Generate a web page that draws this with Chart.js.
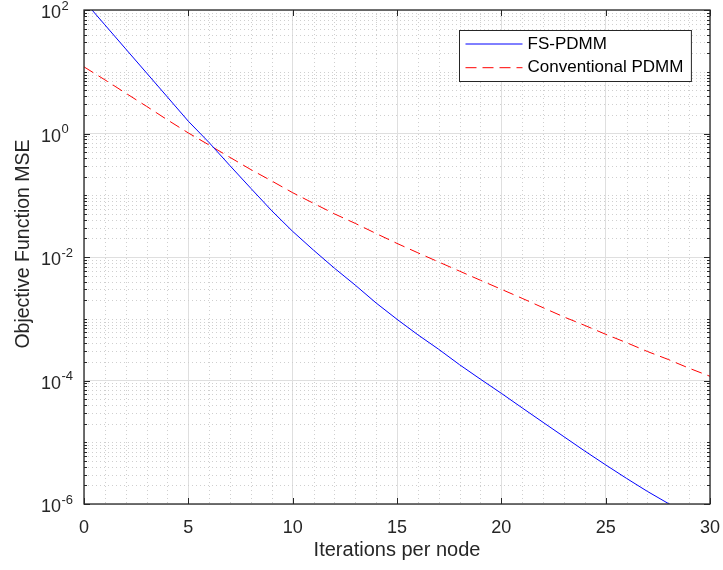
<!DOCTYPE html>
<html>
<head>
<meta charset="utf-8">
<title>FS-PDMM vs Conventional PDMM</title>
<script src="https://cdn.jsdelivr.net/npm/chart.js@4.4.1/dist/chart.umd.min.js"></script>
<style>
  html, body { margin: 0; padding: 0; background: #fff; }
  #wrap { width: 723px; height: 570px; }
</style>
</head>
<body>
<div id="wrap"><canvas id="grafico" width="723" height="570"></canvas></div>
<script>
// iterations per node (x axis)
var iteracoes = [0, 1, 2, 3, 4, 5, 6, 7, 8, 9, 10, 11, 12, 13, 14, 15, 16, 17, 18, 19, 20,
                 21, 22, 23, 24, 25, 26, 27, 28, 29, 30];

// objective function MSE, FS-PDMM
var fsPdmm = [141, 57.5, 23.4, 9.55, 3.89, 1.58, 0.71, 0.30, 0.129, 0.056, 0.026,
              0.0129, 0.0066, 0.0035, 0.0018, 9.8e-4, 5.5e-4, 3.2e-4, 1.8e-4, 1.05e-4, 6.2e-5,
              3.6e-5, 2.1e-5, 1.23e-5, 7.2e-6, 4.3e-6, 2.6e-6, 1.6e-6, 1.02e-6, 6.5e-7, 4.1e-7];

// objective function MSE, conventional PDMM
var convPdmm = [12.0, 7.4, 4.5, 2.75, 1.66, 1.02, 0.65, 0.41, 0.26, 0.17, 0.11,
                0.074, 0.050, 0.035, 0.024, 0.0166, 0.0117, 0.0083, 0.0059, 0.0042, 0.0030,
                0.00214, 0.00151, 0.00107, 7.8e-4, 5.6e-4, 4.1e-4, 2.95e-4, 2.19e-4, 1.58e-4, 1.17e-4];

var xTicks = [0, 5, 10, 15, 20, 25, 30];
var yTicks = [1e-6, 1e-4, 1e-2, 1, 100];

var corEixo = '#262626';
var fonte = '"Liberation Sans", Arial, Helvetica, sans-serif';

// minor grid positions: 2..9 of every decade plus the odd decades, and every unit on x
var minorY = [];
for (var e = -6; e <= 1; e++) {
  for (var k = 1; k <= 9; k++) {
    if (k == 1 && e % 2 == 0) continue;
    minorY.push(k * Math.pow(10, e));
  }
}
var minorX = [];
for (var i = 1; i < 30; i++) {
  if (i % 5 != 0) minorX.push(i);
}

function pontos(ys) {
  return iteracoes.map(function(x, i) { return { x: x, y: ys[i] }; });
}

// box, inward ticks, dotted minor grid, 10^n labels and the boxed legend
var eixos = {
  id: 'eixos',
  beforeDatasetsDraw: function(chart) {
    var ctx = chart.ctx, a = chart.chartArea;
    var xs = chart.scales.x, ys = chart.scales.y;
    ctx.save();
    ctx.strokeStyle = '#cfcfcf';
    ctx.lineWidth = 1;
    ctx.setLineDash([1, 3]);
    ctx.beginPath();
    minorY.forEach(function(v) {
      var y = Math.round(ys.getPixelForValue(v)) + 0.5;
      ctx.moveTo(a.left, y);
      ctx.lineTo(a.right, y);
    });
    minorX.forEach(function(v) {
      var x = Math.round(xs.getPixelForValue(v)) + 0.5;
      ctx.moveTo(x, a.top);
      ctx.lineTo(x, a.bottom);
    });
    ctx.stroke();
    ctx.restore();
  },
  afterDraw: function(chart) {
    var ctx = chart.ctx, a = chart.chartArea;
    var xs = chart.scales.x, ys = chart.scales.y;
    ctx.save();
    ctx.strokeStyle = corEixo;
    ctx.lineWidth = 1.3;
    ctx.strokeRect(a.left, a.top, a.right - a.left, a.bottom - a.top);

    ctx.lineWidth = 1;
    ctx.beginPath();
    xTicks.forEach(function(v) {
      var x = Math.round(xs.getPixelForValue(v)) + 0.5;
      ctx.moveTo(x, a.bottom); ctx.lineTo(x, a.bottom - 6);
      ctx.moveTo(x, a.top); ctx.lineTo(x, a.top + 6);
    });
    yTicks.forEach(function(v) {
      var y = Math.round(ys.getPixelForValue(v)) + 0.5;
      ctx.moveTo(a.left, y); ctx.lineTo(a.left + 6, y);
      ctx.moveTo(a.right, y); ctx.lineTo(a.right - 6, y);
    });
    minorY.forEach(function(v) {
      var y = Math.round(ys.getPixelForValue(v)) + 0.5;
      ctx.moveTo(a.left, y); ctx.lineTo(a.left + 3, y);
      ctx.moveTo(a.right, y); ctx.lineTo(a.right - 3, y);
    });
    ctx.stroke();

    // y tick labels as 10 with a raised exponent
    ctx.fillStyle = corEixo;
    ctx.textBaseline = 'middle';
    ctx.textAlign = 'left';
    yTicks.forEach(function(v) {
      var y = ys.getPixelForValue(v);
      var exp = Math.round(Math.log10(v));
      ctx.font = '18px ' + fonte;
      ctx.fillText('10', 41, y + 3.5);
      var w = ctx.measureText('10').width;
      ctx.font = '13px ' + fonte;
      ctx.fillText(String(exp), 41 + w + 0.5, y - 4);
    });

    // y axis title
    ctx.save();
    ctx.translate(24, 244);
    ctx.rotate(-Math.PI / 2);
    ctx.textAlign = 'center';
    ctx.font = '19.5px ' + fonte;
    ctx.fillText('Objective Function MSE', 0, 0);
    ctx.restore();

    // legend
    var sets = chart.data.datasets;
    ctx.font = '17px ' + fonte;
    var tw = 0;
    sets.forEach(function(d) { tw = Math.max(tw, ctx.measureText(d.label).width); });
    var bw = 6 + 57 + 5 + tw + 8, bh = 51;
    var bx = Math.round(a.right - 19 - bw) + 0.5, by = Math.round(a.top + 20) + 0.5;
    ctx.fillStyle = '#fff';
    ctx.fillRect(bx, by, bw, bh);
    ctx.strokeStyle = corEixo;
    ctx.lineWidth = 1;
    ctx.strokeRect(bx, by, bw, bh);
    sets.forEach(function(d, i) {
      var ly = by + 13.5 + i * 23.7;
      ctx.strokeStyle = d.borderColor;
      ctx.lineWidth = d.borderWidth;
      ctx.setLineDash(d.borderDash || []);
      ctx.beginPath();
      ctx.moveTo(bx + 6, ly);
      ctx.lineTo(bx + 63, ly);
      ctx.stroke();
      ctx.setLineDash([]);
      ctx.fillStyle = '#000';
      ctx.textBaseline = 'middle';
      ctx.fillText(d.label, bx + 68, ly);
    });
    ctx.restore();
  }
};

Chart.defaults.font.family = fonte;

var grafico = new Chart(document.getElementById('grafico').getContext('2d'), {
  type: 'line',
  data: {
    datasets: [{
      label: 'FS-PDMM',
      data: pontos(fsPdmm),
      borderColor: '#0000ff',
      borderWidth: 1,
      pointRadius: 0,
      tension: 0,
      clip: 0
    }, {
      label: 'Conventional PDMM',
      data: pontos(convPdmm),
      borderColor: '#ff0000',
      borderWidth: 1,
      borderDash: [11, 6],
      pointRadius: 0,
      tension: 0,
      clip: 0
    }]
  },
  options: {
    responsive: false,
    animation: false,
    devicePixelRatio: 1,
    layout: { padding: { left: 84, right: 13, top: 10, bottom: 0 } },
    plugins: {
      legend: { display: false },
      tooltip: { enabled: false }
    },
    scales: {
      x: {
        type: 'linear',
        min: 0,
        max: 30,
        ticks: { stepSize: 5, padding: 13, color: corEixo, font: { size: 18 } },
        grid: { color: '#dfdfdf', drawTicks: false },
        border: { display: false },
        title: {
          display: true,
          text: 'Iterations per node',
          color: corEixo,
          font: { size: 20 },
          padding: { top: -13.6, bottom: 8 }
        },
        // the last label may hang past the frame; the layout padding covers it
        afterFit: function(scale) {
          scale.paddingRight = 0;
          scale.paddingLeft = 0;
        }
      },
      y: {
        type: 'logarithmic',
        min: 1e-6,
        max: 100,
        ticks: { display: false },
        grid: { color: '#dfdfdf', drawTicks: false },
        border: { display: false },
        afterBuildTicks: function(axis) {
          axis.ticks = yTicks.map(function(v) { return { value: v }; });
        }
      }
    }
  },
  plugins: [eixos]
});
</script>
</body>
</html>
